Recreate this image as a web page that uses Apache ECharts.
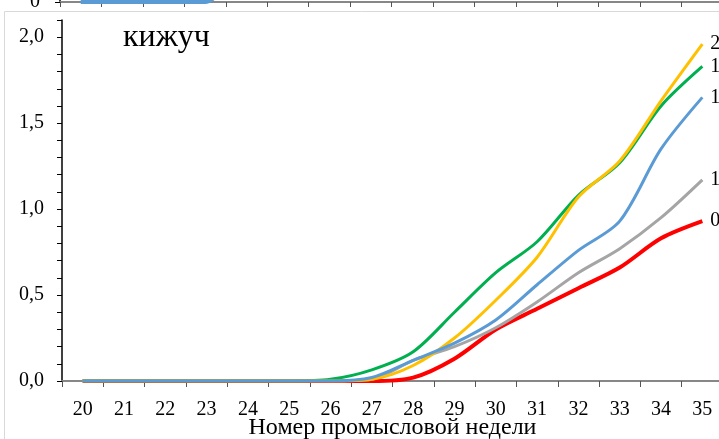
<!DOCTYPE html>
<html><head><meta charset="utf-8">
<script src="https://cdn.jsdelivr.net/npm/echarts@6/dist/echarts.min.js"></script>
<style>html,body{margin:0;padding:0;background:#fff}#c{width:719px;height:439px}</style>
</head><body><div id="c"></div>
<script>
const weeks = ['20','21','22','23','24','25','26','27','28','29','30','31','32','33','34','35'];
const seriesNames = ['s1','s2','s3','s4','s5'];
const yellowVals = [0,0,0,0,0,0,0,0.01,0.09,0.25,0.47,0.72,1.07,1.28,1.63,1.96];
const greenVals  = [0,0,0,0,0,0,0.01,0.065,0.17,0.40,0.63,0.81,1.08,1.27,1.60,1.83];
const blueVals   = [0,0,0,0,0,0,0,0.02,0.12,0.22,0.355,0.56,0.76,0.93,1.35,1.65];
const greyVals   = [0,0,0,0,0,0,0,0.01,0.12,0.20,0.31,0.46,0.63,0.77,0.95,1.17];
const redVals    = [0,0,0,0,0,0,0,0,0.02,0.13,0.30,0.42,0.54,0.66,0.83,0.93];
const topBlueVals = [0,0,0,0,0.6];
const title = 'кижуч';
const xName = 'Номер промысловой недели';

const fmt = v => v.toFixed(1).replace('.', ',');
const serif = '"Liberation Serif","DejaVu Serif",serif';
const chart = echarts.init(document.getElementById('c'));
function line(name, data, color, width, z) {
  return {
    name, type: 'line', data, smooth: 0.3, symbol: 'none', z,
    lineStyle: { color, width },
    itemStyle: { color },
    endLabel: { show: true, distance: 8, color: '#000', fontFamily: serif, fontSize: 20,
      formatter: p => fmt(p.value) }
  };
}
chart.setOption({
  animation: false,
  textStyle: { fontFamily: serif },
  graphic: [
    { type: 'line', shape: { x1: 4.5, y1: 11.5, x2: 719, y2: 11.5 }, style: { stroke: '#d9d9d9', lineWidth: 1 }, z: 0 },
    { type: 'line', shape: { x1: 4.5, y1: 11.5, x2: 4.5, y2: 439 }, style: { stroke: '#d9d9d9', lineWidth: 1 }, z: 0 },
    { type: 'text', left: 123, top: 22, style: { text: title, font: '32px ' + serif, fill: '#000' } }
  ],
  grid: [
    { left: 62, right: -4, top: 20, bottom: 58, outerBoundsMode: 'none', containLabel: false },
    { left: 60, right: -4, top: -100, bottom: 437, outerBoundsMode: 'none', containLabel: false }
  ],
  xAxis: [{
    type: 'category', data: weeks, gridIndex: 0, boundaryGap: true,
    axisLine: { lineStyle: { color: '#878787', width: 2 } },
    axisTick: { show: true, length: 6, lineStyle: { color: '#555', width: 1 } },
    axisLabel: { color: '#000', fontSize: 20, fontFamily: serif, margin: 19 },
    name: xName, nameLocation: 'middle', nameGap: 35, nameMoveOverlap: false,
    nameTextStyle: { color: '#000', fontSize: 24, fontFamily: serif }
  }, {
    type: 'category', data: weeks, gridIndex: 1, boundaryGap: true,
    axisLine: { lineStyle: { color: '#878787', width: 2 } },
    axisTick: { show: true, length: 5, lineStyle: { color: '#555', width: 1 } },
    axisLabel: { show: false }
  }],
  yAxis: [{
    type: 'value', gridIndex: 0, min: 0, max: 2.1, interval: 0.5,
    axisLine: { show: true, lineStyle: { color: '#000', width: 1.5 } },
    axisTick: { show: true, length: 5, lineStyle: { color: '#000' } },
    minorTick: { show: true, splitNumber: 5, length: 5, lineStyle: { color: '#000' } },
    splitLine: { show: false },
    axisLabel: { color: '#000', fontSize: 20, fontFamily: serif, margin: 18, showMaxLabel: false,
      formatter: v => fmt(v) }
  }, {
    type: 'value', gridIndex: 1, min: 0, max: 1, interval: 1,
    axisLine: { show: true, lineStyle: { color: '#000', width: 1.5 } },
    axisTick: { show: true, length: 5, lineStyle: { color: '#000' } },
    splitLine: { show: false },
    axisLabel: { color: '#000', fontSize: 20, fontFamily: serif, margin: 20, showMaxLabel: false }
  }],
  series: [
    line(seriesNames[0], redVals, '#FF0000', 4, 2),
    line(seriesNames[1], greyVals, '#A5A5A5', 3, 3),
    line(seriesNames[2], greenVals, '#00B050', 3, 4),
    line(seriesNames[3], yellowVals, '#FFC000', 3, 5),
    line(seriesNames[4], blueVals, '#5B9BD5', 3, 6),
    { name: 'top', type: 'line', xAxisIndex: 1, yAxisIndex: 1, data: topBlueVals, smooth: 0.35,
      symbol: 'none', lineStyle: { color: '#5B9BD5', width: 4 } }
  ]
});
</script></body></html>
